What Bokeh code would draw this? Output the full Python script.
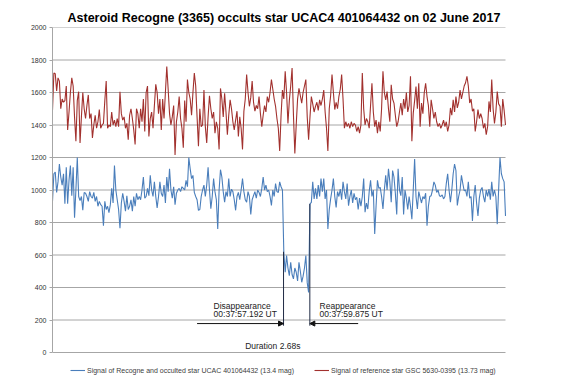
from bokeh.plotting import figure
from bokeh.models import (Range1d, FixedTicker, Label, Arrow, NormalHead,
                          Legend, LegendItem)
from bokeh.embed import file_html
from bokeh.resources import INLINE

TITLE = "Asteroid Recogne (3365) occults star UCAC4 401064432 on 02 June 2017"
TARGET_NAME = "Signal of Recogne and occulted star UCAC 401064432 (13.4 mag)"
REF_NAME = "Signal of reference star GSC 5630-0395 (13.73 mag)"

target_signal = [
    930, 1100, 1110, 985, 1050, 1160, 1080, 1030, 1100, 915,
    1140, 915, 1060, 1150, 965, 1140, 830, 1000, 1200, 960,
    935, 960, 875, 985, 980, 960, 930, 990, 960, 950,
    985, 930, 960, 900, 930, 910, 900, 780, 930, 880,
    900, 860, 910, 1010, 920, 1150, 1000, 940, 880, 765,
    920, 980, 930, 870, 965, 880, 900, 940, 870, 960,
    900, 980, 940, 960, 940, 1000, 1080, 950, 960, 1010,
    965, 1090, 1000, 960, 1050, 960, 890, 960, 1050, 980,
    960, 1030, 920, 1080, 990, 1130, 1000, 950, 1020, 910,
    980, 1000, 1010, 990, 1020, 1010, 1000, 1060, 1020, 1200,
    1130, 1070, 1090, 985, 960, 940, 875, 880, 960, 1000,
    1030, 960, 1030, 1140, 1000, 885, 960, 1070, 990, 940,
    760, 1000, 1125,
    1080, 990, 925, 990, 960, 1070, 960,
    1005, 990, 940, 875, 960, 985, 940, 1000, 1070, 990,
    940, 925, 990, 960, 850, 940, 965, 990, 950, 1000,
    985, 960, 1010, 1080, 1000, 1030, 990, 1000, 960, 905,
    1000, 960, 1040, 990, 985, 1050, 1020, 1000,
    615, 494, 596, 520, 473, 555, 480, 453, 520, 494,
    440, 555, 500, 432, 470, 520, 596, 430, 370, 914,
    924, 1050, 945, 1010, 945, 1030, 960, 1070, 990, 1070, 945, 1000,
    760, 880, 945, 1000, 1070, 960, 893, 990, 960, 1006,
    940, 1050, 990, 945, 1040, 903, 960, 1000, 920, 980, 940,
    955, 880, 950, 900, 960, 1070, 863, 920, 883,
    990, 1060, 960, 1000, 730, 900, 1060, 1010, 1016, 960,
    883, 1000, 1090, 1000, 1130, 1050, 925, 1120, 1080, 980,
    850, 1130, 1000, 965, 1080, 850, 1000, 950, 880, 960,
    900, 820, 1000, 1190, 960, 883, 990, 955, 920, 960,
    945, 980, 780, 900, 960, 965, 1000, 1050, 1030, 985,
    1000, 965, 960, 970, 945, 960, 1040, 1100, 1000, 925,
    1000, 1100, 1160, 1120, 905, 960, 1000, 1090, 1040, 995,
    1000, 960, 1050, 950, 960, 810, 960, 1030, 920, 840,
    950, 1000, 1016, 960, 925, 1000, 960, 1005, 940, 1050,
    960, 1000, 960, 790, 1000, 1200, 1100, 1070, 1050, 840,
]

reference_signal = [
    1490, 1720, 1715, 1610, 1690, 1670, 1500, 1560, 1540, 1550,
    1640, 1370, 1480, 1600, 1690, 1640, 1450, 1300, 1550, 1605,
    1290, 1450, 1600, 1500, 1440, 1520, 1585, 1440, 1470, 1320,
    1400, 1460, 1380, 1420, 1495, 1380, 1400, 1410, 1550, 1670,
    1380, 1400, 1390, 1480, 1400, 1430, 1390, 1440, 1390, 1605,
    1470, 1430, 1450, 1380, 1410, 1310, 1460, 1500, 1440, 1370,
    1280, 1500, 1470, 1380, 1500, 1420, 1560, 1360, 1600, 1640,
    1330, 1440, 1480, 1380, 1520, 1650, 1600, 1470, 1560, 1370,
    1560, 1440, 1600, 1760, 1620, 1470, 1400, 1450, 1520, 1215,
    1420, 1480, 1575, 1440, 1380, 1260, 1550, 1420, 1680, 1600,
    1560, 1460, 1600, 1720, 1640, 1450, 1270, 1500, 1390, 1400,
    1615,
    1390, 1290, 1450, 1580, 1500, 1440, 1480, 1350, 1420, 1380,
    1250, 1625, 1560, 1450, 1595, 1480, 1340, 1460, 1555, 1500,
    1420, 1370, 1430, 1485, 1330, 1450, 1380, 1250, 1485, 1560,
    1710, 1600, 1515, 1570, 1670, 1540, 1485, 1520, 1500, 1575,
    1470, 1390, 1460, 1520, 1480, 1575, 1540, 1600, 1680, 1620,
    1560, 1515, 1440, 1380, 1240, 1460, 1615, 1560, 1730, 1600,
    1410, 1550, 1640, 1750, 1460, 1225, 1400, 1560, 1625, 1580,
    1535, 1600, 1640, 1680, 1450, 1310, 1450, 1575, 1530, 1480,
    1515, 1540, 1490, 1555, 1520, 1560, 1615, 1480, 1380, 1240,
    1500, 1580, 1710, 1600, 1495, 1540, 1500, 1575, 1620, 1710,
    1560, 1380, 1420, 1390, 1410, 1380, 1420, 1390, 1410, 1400,
    1360, 1390, 1350, 1400, 1720, 1500, 1400, 1440, 1420,
    1380, 1520, 1657, 1480, 1390, 1430, 1350, 1420, 1360, 1500,
    1730, 1600, 1555, 1606, 1500, 1420, 1647, 1560, 1535, 1460,
    1390, 1420, 1480, 1535, 1460, 1560, 1500, 1600, 1480, 1520,
    1700, 1300, 1473, 1550, 1637, 1500, 1657, 1390, 1535, 1470,
    1600, 1657, 1575, 1520, 1390, 1555, 1500, 1440, 1480, 1420,
    1390, 1410, 1380, 1400, 1430, 1390, 1420, 1360, 1400, 1505,
    1460, 1555, 1480, 1575, 1505, 1540, 1615, 1560, 1600, 1640,
    1660, 1700, 1640, 1535, 1560, 1485, 1500, 1360, 1420, 1495,
    1440, 1470, 1440, 1380, 1410, 1340, 1390, 1545, 1480, 1680,
    1500, 1410, 1480, 1606, 1530, 1515, 1390, 1560, 1490, 1400,
]

y_ticks = [0, 200, 400, 600, 800, 1000, 1200, 1400, 1600, 1800, 2000]
disappear_text = ["Disappearance", "00:37:57.192 UT"]
reappear_text = ["Reappearance", "00:37:59.875 UT"]
duration_text = "Duration 2.68s"

frame_idx = list(range(len(target_signal)))
ref_idx = list(range(len(reference_signal)))
n_last = max(len(target_signal), len(reference_signal)) - 1

BLUE = "#4A7EBB"
RED = "#A2312E"
GRID = "#A6A6A6"
FONT = "Liberation Sans"

# frame spans the legend strip too; data area is 453 px wide, 325 px tall
x_end = n_last * 515 / 453
y_min = -y_ticks[-1] * 26 / 325

p = figure(width=567, height=378, output_backend="svg", toolbar_location=None,
           x_range=Range1d(0, x_end), y_range=Range1d(y_min, y_ticks[-1]),
           min_border_left=52, min_border_right=0, min_border_top=27,
           min_border_bottom=0, title=TITLE)
p.title.align = "left"
p.title.offset = 15
p.title.text_font = FONT
p.title.text_font_size = "12.5px"
p.title.text_font_style = "bold"
p.title.text_color = "#000000"
p.title.standoff = 5
p.outline_line_color = None
p.xaxis.visible = False
p.xgrid.visible = False
p.ygrid.visible = False
p.yaxis.ticker = FixedTicker(ticks=y_ticks)
p.yaxis.bounds = (y_ticks[0], y_ticks[-1])
p.yaxis.axis_line_color = GRID
p.yaxis.major_tick_line_color = GRID
p.yaxis.major_tick_out = 3
p.yaxis.major_tick_in = 0
p.yaxis.minor_tick_line_color = None
p.yaxis.major_label_standoff = 3
p.yaxis.major_label_text_font = FONT
p.yaxis.major_label_text_font_size = "7px"
p.yaxis.major_label_text_color = "#333333"

# horizontal gridlines across the data area only
p.segment(x0=[0] * len(y_ticks), y0=y_ticks, x1=[n_last] * len(y_ticks), y1=y_ticks,
          line_color=GRID, line_width=1)

r_ref = p.line(ref_idx, reference_signal, line_color=RED, line_width=1.1)
r_tgt = p.line(frame_idx, target_signal, line_color=BLUE, line_width=1.1)

# event markers
d_x, r_x = 167.8, 186.9
p.segment(x0=[d_x, r_x], y0=[620, 914], x1=[d_x, r_x], y1=[165, 165],
          line_color="#1F2A44", line_width=1)
p.add_layout(Arrow(end=NormalHead(size=5, fill_color="#111111", line_color="#111111"),
                   x_start=105, y_start=178, x_end=d_x, y_end=178,
                   line_color="#111111", line_width=1))
p.add_layout(Arrow(end=NormalHead(size=5, fill_color="#111111", line_color="#111111"),
                   x_start=222, y_start=178, x_end=r_x, y_end=178,
                   line_color="#111111", line_width=1))

for i, t in enumerate(disappear_text):
    p.add_layout(Label(x=117, y=287 - 50 * i, text=t, text_font=FONT,
                       text_font_size="8.5px", text_color="#222222",
                       text_baseline="middle"))
for i, t in enumerate(reappear_text):
    p.add_layout(Label(x=194, y=287 - 50 * i, text=t, text_font=FONT,
                       text_font_size="8.5px", text_color="#222222",
                       text_baseline="middle"))
p.add_layout(Label(x=160, y=41, text=duration_text, text_font=FONT,
                   text_font_size="8.5px", text_color="#222222",
                   text_align="center", text_baseline="middle"))

legend = Legend(items=[LegendItem(label=TARGET_NAME, renderers=[r_tgt]),
                       LegendItem(label=REF_NAME, renderers=[r_ref])],
                orientation="horizontal", location=(18, 4),
                label_text_font=FONT, label_text_font_size="7px",
                label_text_color="#404040", glyph_width=15, glyph_height=8,
                label_height=8, label_standoff=2, spacing=20, padding=0,
                margin=0, border_line_color=None, background_fill_alpha=0)
p.add_layout(legend)

open("out.html", "w").write(file_html(p, INLINE))
